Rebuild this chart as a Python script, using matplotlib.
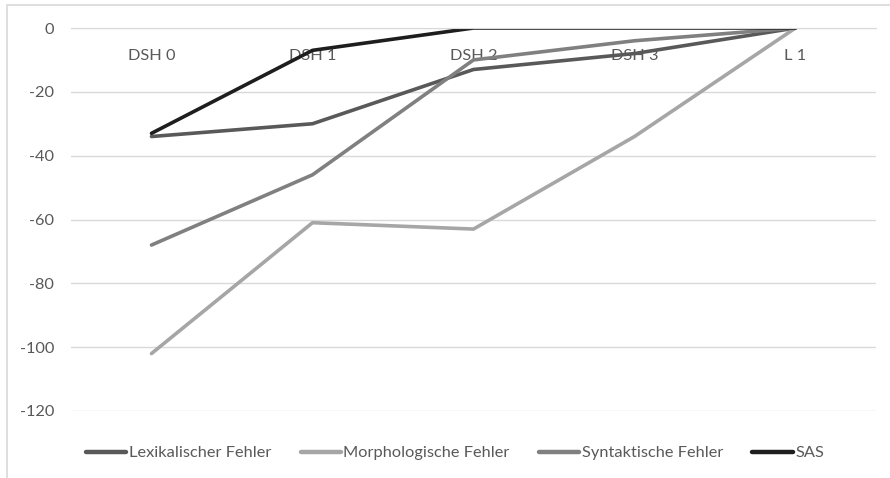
import matplotlib
matplotlib.use("Agg")
import matplotlib.pyplot as plt
from matplotlib.patches import Rectangle

categories = ["DSH 0", "DSH 1", "DSH 2", "DSH 3", "L 1"]
lexikalisch = [-34, -30, -13, -8, 0]
morphologisch = [-102, -61, -63, -34, 0]
syntaktisch = [-68, -46, -10, -4, 0]
sas = [-33, -7, 0, 0, 0]
series_names = ["Lexikalischer Fehler", "Morphologische Fehler", "Syntaktische Fehler", "SAS"]
yticks = [0, -20, -40, -60, -80, -100, -120]

plt.rcParams['font.family'] = ['Lato', 'DejaVu Sans']
FS = 11.8
W, H = 890, 478
fig = plt.figure(figsize=(W / 100, H / 100), dpi=100)
ax = fig.add_axes([71 / W, 1 - 411 / H, (876 - 71) / W, (411 - 28) / H])

# outer chart border
fig.patches.append(Rectangle((7 / W, -0.1), 1.2, (1 - 5 / H) + 0.1, transform=fig.transFigure,
                             fill=False, edgecolor="#d9d9d9", linewidth=1.2))

colors = ["#595959", "#a6a6a6", "#808080", "#1e1e1e"]
x = list(range(len(categories)))
for vals, name, c in zip([lexikalisch, morphologisch, syntaktisch, sas], series_names, colors):
    ax.plot(x, vals, color=c, linewidth=2.6, label=name, solid_capstyle="round", solid_joinstyle="round")

ax.set_xlim(-0.5, len(categories) - 0.5)
ax.set_ylim(-120, 0)
ax.set_yticks(yticks)
ax.set_yticklabels([str(v) for v in yticks], fontsize=FS, color="#595959")
ax.yaxis.grid(True, color="#d9d9d9", linewidth=1)
ax.set_axisbelow(True)
ax.tick_params(axis="y", length=0, pad=12)

ax.spines['bottom'].set_position(('data', 0))
ax.spines['bottom'].set_color("#d9d9d9")
for s in ['top', 'left', 'right']:
    ax.spines[s].set_visible(False)
ax.set_xticks(x)
ax.set_xticklabels(categories, fontsize=FS, color="#595959")
ax.tick_params(axis="x", length=0, pad=15)

fig.legend(loc="center", bbox_to_anchor=(455 / W, 1 - 453 / H), ncol=4, frameon=False,
           fontsize=FS, labelcolor="#595959", handlelength=2.45, handletextpad=0.15,
           columnspacing=1.8)
for line in fig.legends[0].get_lines():
    line.set_linewidth(3.2)

fig.savefig("out.png", dpi=100)
